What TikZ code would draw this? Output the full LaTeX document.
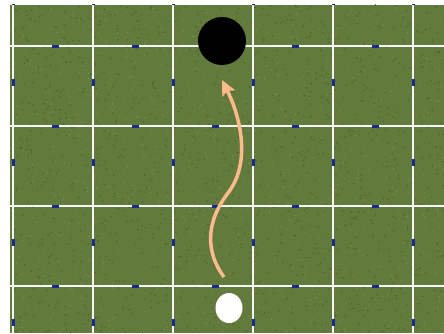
\documentclass[tikz,border=0pt]{standalone}
\usepackage{xcolor}
\definecolor{grass}{HTML}{627A3B}
\definecolor{grassdark}{HTML}{4F6530}
\definecolor{grasslight}{HTML}{7C8E55}
\definecolor{marker}{HTML}{1B2A8E}
\definecolor{peach}{HTML}{FDBA8C}
\usepackage{tikz}
\usetikzlibrary{arrows.meta,shapes.geometric,calc}

\begin{document}
\begin{tikzpicture}[x=1pt, y=1pt,
    fieldline/.style={draw=white!92!gray, line width=2pt},
    ball/.style={ellipse, inner sep=0pt},
    route/.style={draw=peach, line width=3.5pt,
                  -{Stealth[length=15pt, width=14pt, inset=3pt]}}]
  \useasboundingbox (0,0) rectangle (444,333);
  % grass field
  \fill[grass] (10,0) rectangle (444,328);
  \begin{scope}
    \clip (10,0) rectangle (444,328);
    \pgfmathsetseed{42}
    \foreach \i in {1,...,1200}
      \fill[grassdark] ({10+434*rnd},{328*rnd}) circle (0.9);
    \foreach \i in {1,...,1200}
      \fill[grasslight] ({10+434*rnd},{328*rnd}) circle (0.7);
    % field lines
    \foreach \x in {13,93,...,413}
      \draw[fieldline] (\x,0) -- (\x,328);
    \foreach \y in {47,127,...,287}
      \draw[fieldline] (10,\y) -- (444,\y);
    % blue markers on the lines
    \foreach \x in {13,93,...,413}
      \foreach \y in {11,91,...,331}
        \fill[marker] (\x-1.5,\y-3.5) rectangle (\x+1.5,\y+3.5);
    \foreach \y in {47,127,...,287}
      \foreach \x in {55,135,...,375}
        \fill[marker] (\x-3.5,\y-1.5) rectangle (\x+3.5,\y+1.5);
  \end{scope}

  % balls and route
  \node[ball, fill=black, minimum size=48pt] (goal) at (222,292) {};
  \node[ball, fill=white, minimum width=27pt, minimum height=30pt] (start) at (229,25) {};
  \coordinate (tail) at ($(start)+(-5,31)$);
  \coordinate (bend) at (228,140);
  \coordinate (tip) at ($(goal)+(0,-39)$);
  \draw[route] (tail) .. controls (206,80) and (205,110) .. (bend)
               .. controls (251,170) and (241,215) .. (tip);
\end{tikzpicture}
\end{document}
